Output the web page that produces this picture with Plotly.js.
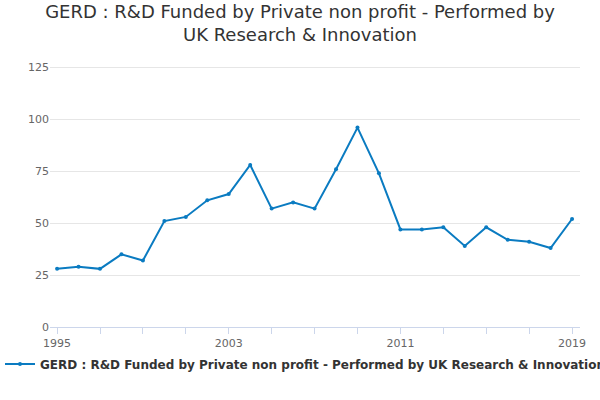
<!DOCTYPE html>
<html>
<head>
<meta charset="utf-8">
<script src="https://cdn.plot.ly/plotly-3.0.1.min.js"></script>
<style>body{margin:0}#plot{width:600px;height:400px}</style>
</head>
<body>
<div id="plot"></div>
<script>
var years = [1995,1996,1997,1998,1999,2000,2001,2002,2003,2004,2005,2006,2007,2008,2009,2010,2011,2012,2013,2014,2015,2016,2017,2018,2019];
var values = [28,29,28,35,32,51,53,61,64,78,57,60,57,76,96,74,47,47,48,39,48,42,41,38,52];
var seriesName = '<b>GERD : R&D Funded by Private non profit - Performed by UK Research & Innovation</b>';

var tickYears = [];
var tickLabels = [];
for (var y = 1995; y <= 2019; y += 2) {
  tickYears.push(y);
  tickLabels.push((y - 1995) % 8 == 0 ? String(y) : '');
}

var trace = {
  x: years,
  y: values,
  name: seriesName,
  type: 'scatter',
  mode: 'lines+markers',
  line: {color: '#0a7bc1', width: 2},
  marker: {color: '#0a7bc1', size: 4}
};

var layout = {
  width: 600, height: 400,
  font: {family: 'DejaVu Sans, sans-serif', color: '#666', size: 11},
  title: {text: 'GERD : R&D Funded by Private non profit - Performed by<br>UK Research & Innovation',
          font: {size: 18, color: '#333'}, x: 0.5, y: 0.955},
  margin: {l: 50, r: 20, t: 57, b: 73},
  showlegend: true,
  legend: {orientation: 'h', xref: 'container', yref: 'container', x: -0.015, xanchor: 'left',
           y: 0.09, yanchor: 'middle', font: {size: 12, color: '#333'}},
  xaxis: {range: [1994.67, 2019.37], tickvals: tickYears, ticktext: tickLabels,
          ticks: 'outside', ticklen: 6, tickcolor: '#ccd6eb', showgrid: false,
          showline: true, linecolor: '#ccd6eb', zeroline: false},
  yaxis: {range: [0, 130], tickvals: [0,25,50,75,100,125], gridcolor: '#e6e6e6',
          zeroline: false, showline: false},
  annotations: [{text: 'Source:', xref: 'container', yref: 'container', x: 0.98, y: 0.025,
                 xanchor: 'right', yanchor: 'middle', showarrow: false, font: {size: 12, color: '#666'}}],
  plot_bgcolor: '#fff', paper_bgcolor: '#fff'
};

Plotly.newPlot('plot', [trace], layout, {displayModeBar: false});
</script>
</body>
</html>
